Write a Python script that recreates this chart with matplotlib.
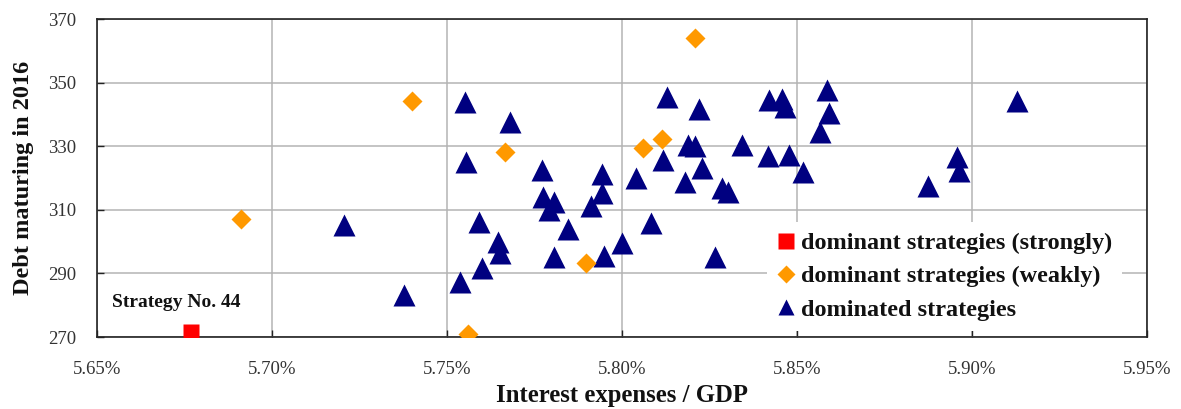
import matplotlib
matplotlib.use("Agg")
import matplotlib.pyplot as plt
from matplotlib.lines import Line2D
from matplotlib.ticker import FuncFormatter, FixedLocator, MultipleLocator

plt.rcParams["font.family"] = ["Liberation Serif", "DejaVu Serif"]

# Interest expenses / GDP (in %) and debt maturing in 2016 for each strategy
strong_x = [5.6769]
strong_y = [271.5]

weak_x = [5.6912, 5.7402, 5.7562, 5.7667, 5.7898, 5.8062, 5.8114, 5.8209]
weak_y = [307.0, 344.2, 270.9, 328.3, 293.2, 329.3, 332.2, 363.9]

dominated_x = [
    5.7207, 5.7378, 5.7552, 5.7554, 5.7681, 5.7592, 5.7647, 5.7652, 5.7600,
    5.7538, 5.7773, 5.7774, 5.7807, 5.7792, 5.7847, 5.7807, 5.7944, 5.7944,
    5.7912, 5.7950, 5.8000, 5.8040, 5.8084, 5.8130, 5.8222, 5.8190, 5.8209,
    5.8119, 5.8230, 5.8182, 5.8287, 5.8305, 5.8343, 5.8267, 5.8422, 5.8457,
    5.8467, 5.8419, 5.8478, 5.8519, 5.8586, 5.8592, 5.8567, 5.9129, 5.8957,
    5.8964, 5.8876,
]
dominated_y = [
    305.2, 283.2, 343.8, 325.1, 337.7, 306.1, 300.0, 296.3, 291.6,
    287.4, 322.5, 314.1, 312.4, 309.9, 303.9, 295.3, 321.2, 315.2,
    311.3, 295.5, 299.5, 320.1, 305.8, 345.6, 341.6, 330.4, 330.2,
    325.7, 323.2, 318.8, 317.0, 315.5, 330.4, 295.3, 344.5, 344.8,
    342.2, 327.0, 327.2, 322.0, 347.7, 340.5, 334.4, 344.2, 326.7,
    322.2, 317.6,
]

y_ticks = [270, 290, 310, 330, 350, 370]

labels = ["dominant strategies (strongly)",
          "dominant strategies (weakly)",
          "dominated strategies"]

RED = "#ff0000"
ORANGE = "#ff9900"
NAVY = "#000080"

fig = plt.figure(figsize=(11.81, 4.09), dpi=100)
ax = fig.add_axes([0.0819, 0.176, 0.889, 0.7775])

ax.plot(dominated_x, dominated_y, linestyle="none", marker="^", ms=15.5,
        color=NAVY, mec="none", zorder=3)
ax.plot(weak_x, weak_y, linestyle="none", marker="D", ms=10,
        color=ORANGE, mec="none", zorder=4)
ax.plot(strong_x, strong_y, linestyle="none", marker="s", ms=11.5,
        color=RED, mec="none", zorder=5)

ax.text(5.6543, 280.8, "Strategy No. 44", fontsize=14, fontweight="bold",
        va="center", ha="left", color="#111111", zorder=6)

ax.set_xlim(5.65, 5.95)
ax.set_ylim(270, 370)
ax.xaxis.set_major_locator(MultipleLocator(0.05))
ax.yaxis.set_major_locator(FixedLocator(y_ticks))
ax.xaxis.set_major_formatter(FuncFormatter(lambda v, p: f"{v:.2f}%"))
ax.yaxis.set_major_formatter(FuncFormatter(lambda v, p: f"{v:.0f}"))

ax.grid(True, color="#b4b4b4", linewidth=1.1, zorder=0)
ax.set_axisbelow(True)
for s in ax.spines.values():
    s.set_color("#222222")
    s.set_linewidth(1.2)

ax.tick_params(axis="both", direction="in", length=5, width=1,
               color="#222222", labelsize=13.5, labelcolor="#333333")
ax.tick_params(axis="x", pad=17.5)
ax.tick_params(axis="y", pad=15)

ax.set_xlabel("Interest expenses / GDP", fontsize=17.8, fontweight="bold",
              color="#111111", labelpad=4)
ax.set_ylabel("Debt maturing in 2016", fontsize=17.5, fontweight="bold",
              color="#111111", labelpad=10)

handles = [
    Line2D([], [], linestyle="none", marker="s", ms=11, color=RED, mec="none"),
    Line2D([], [], linestyle="none", marker="D", ms=9, color=ORANGE, mec="none"),
    Line2D([], [], linestyle="none", marker="^", ms=12, color=NAVY, mec="none"),
]
leg = ax.legend(handles, labels, loc="lower left",
                bbox_to_anchor=(0.638, 0.02), frameon=True, fancybox=False,
                framealpha=1, facecolor="white", edgecolor="none",
                prop={"size": 17.5, "weight": "bold"}, handlelength=0.8,
                handletextpad=0.2, labelspacing=0.47, borderpad=0.4,
                borderaxespad=0)
leg.set_zorder(7)
for t in leg.get_texts():
    t.set_color("#111111")

fig.savefig("out.png", dpi=100)
